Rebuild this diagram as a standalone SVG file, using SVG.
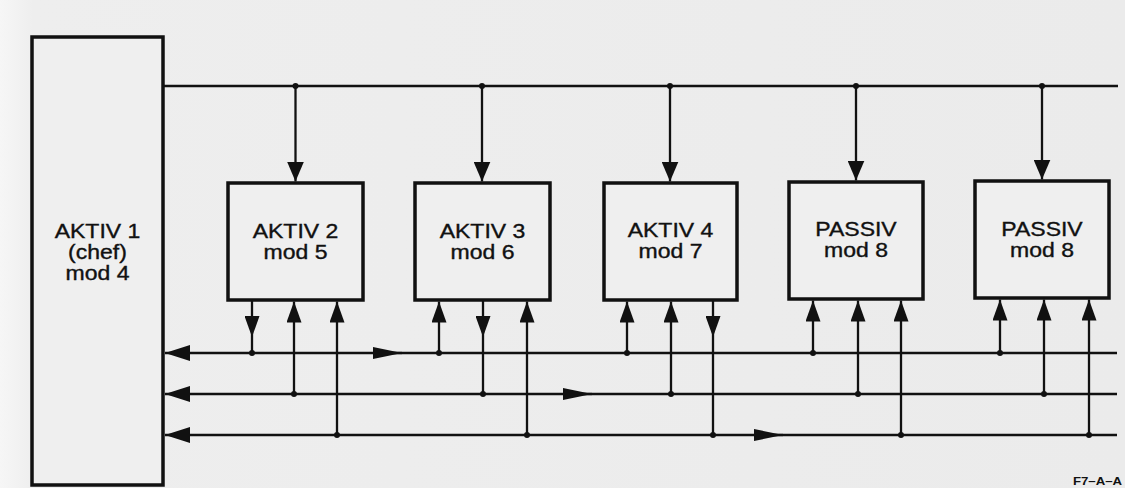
<svg xmlns="http://www.w3.org/2000/svg" width="1125" height="488" viewBox="0 0 1125 488">
<style>
.box{fill:#efefef;stroke:#111;stroke-width:3.5}
.ln{fill:none;stroke:#111;stroke-width:2.3}
.dot{fill:#111}
.t{font-family:"Liberation Sans",Arial,sans-serif;font-size:19.5px;fill:#111;stroke:#111;stroke-width:0.35;text-anchor:middle}
.lbl{font-family:"Liberation Sans",Arial,sans-serif;font-size:11px;font-weight:bold;fill:#111}
</style>
<defs>
<linearGradient id="bg" x1="0" y1="0" x2="1" y2="0">
<stop offset="0" stop-color="#f6f6f6"/>
<stop offset="0.03" stop-color="#eeeeee"/>
<stop offset="1" stop-color="#ebebeb"/>
</linearGradient>
<marker id="aTop" markerUnits="userSpaceOnUse" markerWidth="20" markerHeight="17" refX="20" refY="8.5" orient="auto"><path d="M0,0 L20,8.5 L0,17 z" fill="#111"/></marker>
<marker id="aPort" markerUnits="userSpaceOnUse" markerWidth="21" markerHeight="15" refX="21" refY="7.5" orient="auto"><path d="M0,0 L21,7.5 L0,15 z" fill="#111"/></marker>
<marker id="aLeft" markerUnits="userSpaceOnUse" markerWidth="25" markerHeight="16" refX="25" refY="8" orient="auto"><path d="M0,0 L25,8 L0,16 z" fill="#111"/></marker>
<marker id="aIn" markerUnits="userSpaceOnUse" markerWidth="29" markerHeight="12" refX="29" refY="6" orient="auto"><path d="M0,0 L29,6 L0,12 z" fill="#111"/></marker>
</defs>
<rect x="0" y="0" width="1125" height="488" fill="url(#bg)"/>

<g id="connectors">
<path class="ln" d="M163,86 H1118"/>
<path class="ln" d="M295.5,86 V181.5" marker-end="url(#aTop)"/>
<path class="ln" d="M482,86 V181.5" marker-end="url(#aTop)"/>
<path class="ln" d="M670,86 V181.5" marker-end="url(#aTop)"/>
<path class="ln" d="M856,86 V180.5" marker-end="url(#aTop)"/>
<path class="ln" d="M1042,86 V179.5" marker-end="url(#aTop)"/>
<circle class="dot" cx="295.5" cy="86" r="3"/>
<circle class="dot" cx="482" cy="86" r="3"/>
<circle class="dot" cx="670" cy="86" r="3"/>
<circle class="dot" cx="856" cy="86" r="3"/>
<circle class="dot" cx="1042" cy="86" r="3"/>

<path class="ln" d="M1117,353 H165" marker-end="url(#aLeft)"/>
<path class="ln" d="M1117,394 H165" marker-end="url(#aLeft)"/>
<path class="ln" d="M1117,435 H165" marker-end="url(#aLeft)"/>
<path class="ln" d="M373,353 H402" marker-end="url(#aIn)"/>
<path class="ln" d="M563,394 H592" marker-end="url(#aIn)"/>
<path class="ln" d="M754,435 H783" marker-end="url(#aIn)"/>

<path class="ln" d="M252,300 V337 V353" marker-mid="url(#aPort)"/>
<path class="ln" d="M294,394 V301.5" marker-end="url(#aPort)"/>
<path class="ln" d="M337,435 V301.5" marker-end="url(#aPort)"/>
<path class="ln" d="M439,353 V301.5" marker-end="url(#aPort)"/>
<path class="ln" d="M483,300 V337 V394" marker-mid="url(#aPort)"/>
<path class="ln" d="M527,435 V301.5" marker-end="url(#aPort)"/>
<path class="ln" d="M627,353 V301.5" marker-end="url(#aPort)"/>
<path class="ln" d="M671,394 V301.5" marker-end="url(#aPort)"/>
<path class="ln" d="M713,300 V337 V435" marker-mid="url(#aPort)"/>
<path class="ln" d="M813,353 V300.5" marker-end="url(#aPort)"/>
<path class="ln" d="M858,394 V300.5" marker-end="url(#aPort)"/>
<path class="ln" d="M901,435 V300.5" marker-end="url(#aPort)"/>
<path class="ln" d="M1000,353 V299.5" marker-end="url(#aPort)"/>
<path class="ln" d="M1044,394 V299.5" marker-end="url(#aPort)"/>
<path class="ln" d="M1089,435 V299.5" marker-end="url(#aPort)"/>

<circle class="dot" cx="252" cy="353" r="3"/>
<circle class="dot" cx="294" cy="394" r="3"/>
<circle class="dot" cx="337" cy="435" r="3"/>
<circle class="dot" cx="439" cy="353" r="3"/>
<circle class="dot" cx="483" cy="394" r="3"/>
<circle class="dot" cx="527" cy="435" r="3"/>
<circle class="dot" cx="627" cy="353" r="3"/>
<circle class="dot" cx="671" cy="394" r="3"/>
<circle class="dot" cx="713" cy="435" r="3"/>
<circle class="dot" cx="813" cy="353" r="3"/>
<circle class="dot" cx="858" cy="394" r="3"/>
<circle class="dot" cx="901" cy="435" r="3"/>
<circle class="dot" cx="1000" cy="353" r="3"/>
<circle class="dot" cx="1044" cy="394" r="3"/>
<circle class="dot" cx="1089" cy="435" r="3"/>
</g>

<g id="aktiv1">
<rect class="box" x="32" y="37" width="131" height="448"/>
<text class="t" transform="translate(97.5,238) scale(1.18,1)">AKTIV 1</text>
<text class="t" transform="translate(97.5,259) scale(1.18,1)">(chef)</text>
<text class="t" transform="translate(97.5,280) scale(1.18,1)">mod 4</text>
</g>
<g id="aktiv2">
<rect class="box" x="228" y="183" width="135" height="117"/>
<text class="t" transform="translate(295.5,238) scale(1.18,1)">AKTIV 2</text>
<text class="t" transform="translate(295.5,259) scale(1.18,1)">mod 5</text>
</g>
<g id="aktiv3">
<rect class="box" x="415" y="183" width="135" height="117"/>
<text class="t" transform="translate(482.5,238) scale(1.18,1)">AKTIV 3</text>
<text class="t" transform="translate(482.5,259) scale(1.18,1)">mod 6</text>
</g>
<g id="aktiv4">
<rect class="box" x="604" y="183" width="133" height="117"/>
<text class="t" transform="translate(670.5,237) scale(1.18,1)">AKTIV 4</text>
<text class="t" transform="translate(670.5,258) scale(1.18,1)">mod 7</text>
</g>
<g id="passiv1">
<rect class="box" x="789" y="182" width="134" height="117"/>
<text class="t" transform="translate(856,236) scale(1.18,1)">PASSIV</text>
<text class="t" transform="translate(856,257) scale(1.18,1)">mod 8</text>
</g>
<g id="passiv2">
<rect class="box" x="975" y="181" width="134" height="117"/>
<text class="t" transform="translate(1042,236) scale(1.18,1)">PASSIV</text>
<text class="t" transform="translate(1042,257) scale(1.18,1)">mod 8</text>
</g>
<text class="lbl" transform="translate(1073,485) scale(1.2,1)">F7–A–A</text>
</svg>
